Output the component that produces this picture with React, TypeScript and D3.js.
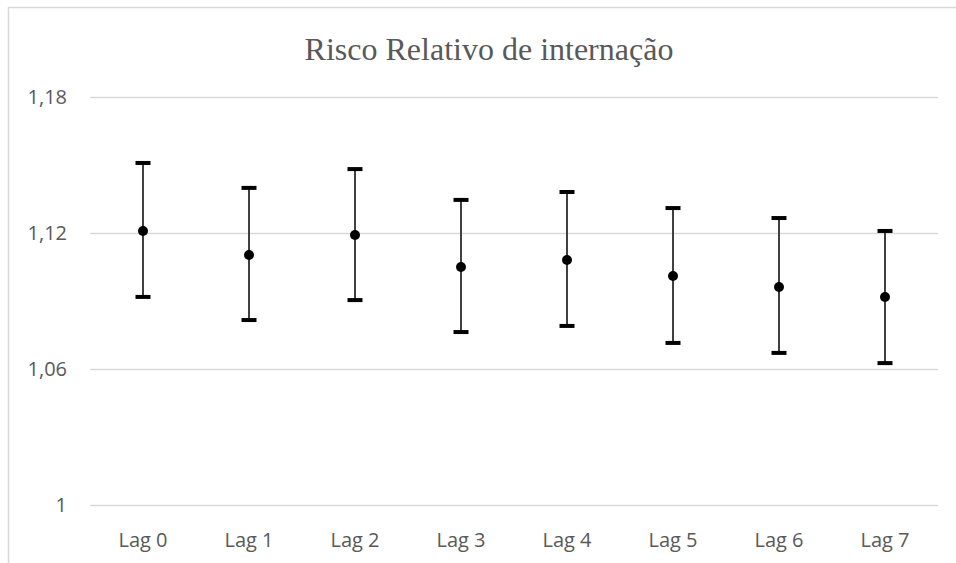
import React, { useEffect, useRef } from "react";
import * as d3 from "d3";

const categories = ["Lag 0", "Lag 1", "Lag 2", "Lag 3", "Lag 4", "Lag 5", "Lag 6", "Lag 7"];
const estimates = [1.1209, 1.1103, 1.1191, 1.105, 1.1081, 1.101, 1.0962, 1.0918];
const upper = [1.1509, 1.1399, 1.1482, 1.1346, 1.1381, 1.131, 1.1266, 1.1209];
const lower = [1.0918, 1.0816, 1.0904, 1.0763, 1.079, 1.0715, 1.0671, 1.0626];
const yTicks = [1, 1.06, 1.12, 1.18];

const App = () => {
  const ref = useRef<SVGSVGElement>(null);

  useEffect(() => {
    const svg = d3.select(ref.current);
    svg.selectAll("*").remove();

    // chart area border (left and top, the rest is cropped)
    svg
      .append("path")
      .attr("d", "M8.5,570 L8.5,7.5 L960,7.5")
      .attr("fill", "none")
      .attr("stroke", "#d9d9d9")
      .attr("stroke-width", 1.5);

    var x = d3.scaleBand().domain(categories).range([90, 938]);
    var y = d3.scaleLinear().domain([1, 1.18]).range([505, 97]);

    // gridlines
    svg
      .selectAll("grid")
      .data(yTicks)
      .enter()
      .append("line")
      .attr("x1", 90)
      .attr("x2", 938)
      .attr("y1", (d) => Math.round(y(d)) + 0.5)
      .attr("y2", (d) => Math.round(y(d)) + 0.5)
      .attr("stroke", "#d9d9d9")
      .attr("stroke-width", 1.5);

    // y tick labels
    svg
      .selectAll("ylab")
      .data(yTicks)
      .enter()
      .append("text")
      .attr("x", 67)
      .attr("y", (d) => y(d) + 7)
      .attr("text-anchor", "end")
      .attr("fill", "#595959")
      .style("font-family", "'Open Sans', sans-serif")
      .style("font-size", "20px")
      .text((d) => (d === 1 ? "1" : d3.format(".2f")(d).replace(".", ",")));

    // x labels
    svg
      .selectAll("xlab")
      .data(categories)
      .enter()
      .append("text")
      .attr("x", (d) => (x(d) as number) + x.bandwidth() / 2)
      .attr("y", 547)
      .attr("text-anchor", "middle")
      .attr("fill", "#595959")
      .style("font-family", "'Open Sans', sans-serif")
      .style("font-size", "20px")
      .text((d) => d);

    const cx = (i: number) => (x(categories[i]) as number) + x.bandwidth() / 2;

    // error bars
    const g = svg.append("g");
    categories.forEach((c, i) => {
      g.append("line")
        .attr("x1", cx(i))
        .attr("x2", cx(i))
        .attr("y1", y(upper[i]))
        .attr("y2", y(lower[i]))
        .attr("stroke", "#404040")
        .attr("stroke-width", 2);
      [upper[i], lower[i]].forEach((v) => {
        g.append("line")
          .attr("x1", cx(i) - 7.5)
          .attr("x2", cx(i) + 7.5)
          .attr("y1", y(v))
          .attr("y2", y(v))
          .attr("stroke", "#000")
          .attr("stroke-width", 4);
      });
      g.append("circle")
        .attr("cx", cx(i))
        .attr("cy", y(estimates[i]))
        .attr("r", 5)
        .attr("fill", "#000");
    });

    // title
    svg
      .append("text")
      .attr("x", 489)
      .attr("y", 60)
      .attr("text-anchor", "middle")
      .attr("fill", "#595959")
      .style("font-family", "'Liberation Serif', 'Times New Roman', serif")
      .style("font-size", "32px")
      .text("Risco Relativo de internação");
  }, []);

  return (
    <svg
      ref={ref}
      width={956}
      height={563}
      style={{ position: "absolute", left: 0, top: 0, background: "#fff" }}
    />
  );
};

export default App;
